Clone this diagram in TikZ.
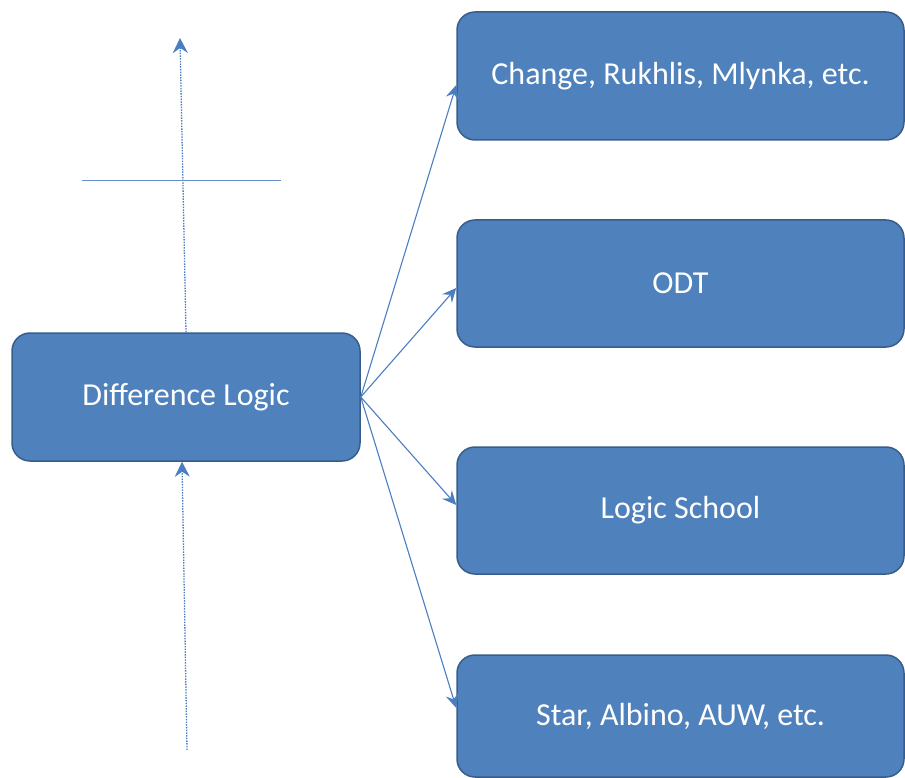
\documentclass[tikz,border=0pt]{standalone}
\usepackage{fontspec}
\setmainfont{Carlito}
\usetikzlibrary{arrows.meta}
\definecolor{boxblue}{HTML}{4F81BD}
\definecolor{boxedge}{HTML}{385D8A}
\definecolor{linkblue}{HTML}{4A7EC0}
\tikzset{
  box/.style={draw=boxedge, line width=1.5pt, fill=boxblue, rounded corners=18pt,
    text=white, font=\fontsize{32}{38}\selectfont, inner sep=0pt, anchor=center},
  link/.style={draw=linkblue, line width=1.1pt, -{Stealth[length=14pt,width=13pt,inset=5pt]}},
  dotlink/.style={draw=linkblue, line width=1.3pt, dash pattern=on 1.5pt off 1.2pt, -{Stealth[length=15pt,width=15pt,inset=5pt]}},
  crossline/.style={draw=linkblue!85, line width=1pt}
}
\begin{document}
\begin{tikzpicture}[x=1pt,y=-1pt]
\useasboundingbox (0,0) rectangle (905,778);
\node[box, minimum width=348pt, minimum height=128pt] (dl) at (186,397) {Difference Logic};
\node[box, minimum width=447pt, minimum height=128pt] (c) at (680.5,76) {Change, Rukhlis, Mlynka, etc.};
\node[box, minimum width=447pt, minimum height=127pt] (odt) at (680.5,283.5) {ODT};
\node[box, minimum width=447pt, minimum height=127pt] (ls) at (680.5,510.5) {Logic School};
\node[box, minimum width=447pt, minimum height=122pt] (st) at (680.5,716) {Star, Albino, AUW, etc.};
\coordinate (top) at (180,38);
\coordinate (bot) at (187,750);
\coordinate (hl) at (82,181);
\coordinate (hr) at (281,181);
\draw[dotlink] ([xshift=0pt]dl.north) -- (top);
\draw[dotlink] (bot) -- ([xshift=-4pt]dl.south);
\draw[crossline] (hl) -- (hr);
\draw[link] (dl.east) -- ([yshift=-9pt]c.west);
\draw[link] (dl.east) -- ([yshift=-4.5pt]odt.west);
\draw[link] (dl.east) -- ([yshift=5.5pt]ls.west);
\draw[link] (dl.east) -- ([yshift=8pt]st.west);
\end{tikzpicture}
\end{document}
